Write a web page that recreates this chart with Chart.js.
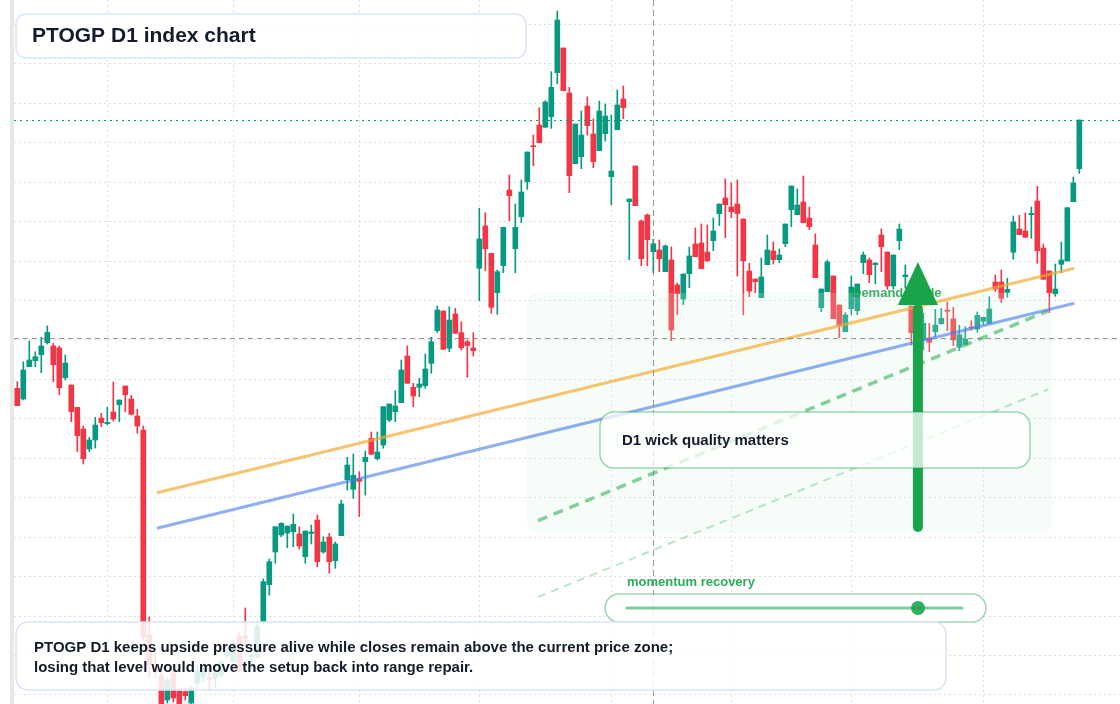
<!DOCTYPE html>
<html>
<head>
<meta charset="utf-8">
<title>PTOGP D1 index chart</title>
<script src="https://cdn.jsdelivr.net/npm/chart.js@4.4.1/dist/chart.umd.min.js"></script>
<style>
    html, body { margin: 0; padding: 0; background: #fff; }
    #wrap { width: 1120px; height: 704px; }
</style>
</head>
<body>
<div id="wrap"><canvas id="chart" width="1120" height="704"></canvas></div>
<script>
// 📊 OHLC per daily candle (index 0..177)
const opens = [
    611.7, 601, 633.3, 639.3, 645.3, 657.3, 654, 652, 622.3, 615,
    592.7, 571, 551, 560, 582, 576.3, 588, 595.3, 614, 601,
    584, 570, 365, 336, 324, 300, 327, 309, 308.3, 297,
    317, 323, 322.3, 321.7, 325, 344, 338.3, 363.3, 364, 343,
    343.3, 378, 415.3, 448, 465, 467, 468.3, 466, 443.3, 466.5,
    480, 448, 463, 439.3, 464.3, 520.3, 510.7, 521, 538.3, 561.7,
    541.3, 555, 580, 588.3, 597.3, 644, 612.7, 612.7, 614.3, 636.7,
    669.3, 689, 651.7, 686, 667.3, 658.3, 652, 731.7, 774, 746.7,
    707.3, 734.3, 810, 751.3, 783.3, 818.3, 854.3, 875, 872.7, 883.3,
    927.3, 952, 907, 836.3, 843.3, 894, 866, 849.3, 866.3, 823.3,
    870.3, 901, 798.3, 834, 779, 785, 748.3, 750, 728.3, 740,
    715, 701, 726.3, 756, 757, 748, 759.3, 786.3, 802, 793,
    796, 781, 729, 721, 702.3, 735.3, 749, 740.3, 756.3, 790.3,
    785.3, 798, 782, 755, 692.3, 708.3, 724, 695, 668.3, 691.3,
    689.3, 737.3, 740, 735.3, 765, 748, 714, 759.3, 723.3, 694,
    668, 660.7, 661.7, 668.3, 676.3, 690, 681, 652.7, 655.7, 673,
    671, 678.7, 676.7, 718, 718, 707.7, 747.7, 771, 769, 785.3,
    799, 752, 729, 706.3, 735.7, 739, 798.3, 831.3
];
const highs = [
    618.3, 638.3, 659, 648.3, 662.7, 674, 656.7, 654, 645, 615,
    592.7, 574, 562.7, 582.7, 586.7, 592.7, 618, 600, 614, 604.7,
    590.7, 574, 383, 347, 328, 322, 330, 312, 312, 314,
    335, 337, 333, 333, 340, 352, 360, 367, 392, 353,
    378, 421, 441, 473.3, 477.3, 474, 486, 473.3, 469, 475,
    485, 463.3, 466.7, 458, 500, 542.7, 546, 528.3, 549, 568,
    568, 593.3, 596, 609.3, 640, 654, 616.7, 621.7, 646, 662.7,
    694, 689, 693.3, 691.7, 678.3, 660, 667.3, 791.7, 787.3, 746.7,
    730, 772.7, 825, 796, 820, 848, 865, 892.3, 899.3, 928.3,
    989, 952, 912.7, 876, 889, 903, 881, 899, 896, 885,
    910, 914, 801, 834, 780, 786, 760.7, 760, 755, 753,
    717, 726, 753, 772, 776, 775, 782, 796, 821, 817,
    820, 781, 736.7, 721, 742, 765, 758, 751, 776, 814,
    811, 824, 793, 766, 711, 740, 724, 695, 687.3, 724,
    716, 748, 742, 737, 771, 748, 745, 776, 735, 694,
    690, 686.7, 676.7, 690.7, 691.7, 698, 692.7, 674.7, 673.3, 679.3,
    688, 682.7, 703.3, 725, 730, 721.7, 784, 784.7, 787, 793,
    813.7, 756, 729, 736, 758, 792.3, 823, 880
];
const lows = [
    594.3, 600, 633.3, 633.3, 627.3, 656, 618.3, 605.3, 620, 578.3,
    548.3, 536, 548.3, 552, 573.3, 575.3, 579, 578.3, 588.3, 585,
    566.7, 360, 322, 322, 285, 297, 298, 288, 300, 296,
    312, 318, 310, 313, 323, 343, 337, 328, 355, 333,
    342, 376, 405, 436.7, 463.3, 452.3, 453.3, 451, 436.7, 456,
    433.3, 446.7, 426.7, 431.7, 464.3, 510, 501.7, 483.3, 505, 545.7,
    540, 551.7, 578.3, 578.3, 597.3, 616.7, 593.3, 603.3, 611.7, 626.7,
    667.3, 650.7, 648.3, 666.7, 650, 622.7, 644, 699.3, 729.3, 686.7,
    685.7, 727.3, 779.3, 727.3, 777.3, 810.7, 834.3, 857.3, 872.7, 871.7,
    916, 909.3, 807.3, 836.3, 831.3, 865, 832.3, 849.3, 859, 795.3,
    870.3, 881.3, 740.3, 794.3, 734.3, 734.3, 727.3, 728.3, 728.3, 659.3,
    685.3, 695.3, 712.3, 743.3, 731.3, 738.3, 749.3, 774.3, 762.3, 782.3,
    724, 685, 703.3, 707.3, 702.3, 735.3, 736, 737.3, 753.3, 773.3,
    785.3, 777.3, 770.3, 722.3, 688.3, 708.3, 681.3, 662.3, 668.3, 685.3,
    685.3, 726.3, 717.3, 716.3, 728.3, 710.7, 711, 750.3, 711.7, 655,
    660, 650, 648.3, 663.3, 675.7, 669.3, 654.3, 649.3, 655.7, 670,
    667.7, 675.7, 676.7, 708.7, 697.3, 702.7, 740.7, 765.3, 762.7, 761.7,
    736.7, 720.7, 687.3, 703.7, 727.3, 739, 798.3, 826.7
];
const closes = [
    594.3, 630, 640, 643.3, 654, 667.7, 635.3, 612.3, 637, 588.3,
    564.3, 541.3, 560, 575, 577.3, 577.7, 581, 600, 605.3, 585.7,
    574, 363, 335, 328, 290, 320, 302, 292, 304.3, 312,
    329, 332, 320.7, 327.3, 338.3, 348.3, 356.7, 330, 362, 345,
    373.3, 418.3, 438.3, 473.3, 476.7, 474, 475.7, 454, 469, 468,
    438.3, 458, 438.3, 456, 496, 535, 524.7, 518.7, 542.7, 545.7,
    548, 593.3, 596, 594, 630, 616.7, 604, 616, 631, 658.3,
    690, 650.7, 680, 666.7, 652.3, 654.3, 649.3, 761, 751.3, 692.7,
    728.3, 772.7, 804.3, 772.7, 808, 848, 853.3, 857.3, 898, 912.7,
    980, 909.3, 824.3, 876, 865, 874.3, 838.3, 889, 884, 829,
    895, 892.3, 801, 794.3, 741.3, 760.3, 756.3, 741.3, 754, 670,
    706.3, 726, 744, 743.3, 731.3, 739.3, 769, 796, 795.3, 788.3,
    786.5, 739.3, 709, 718.3, 723, 750, 740.3, 745, 776, 814,
    795, 777.3, 773.3, 722.3, 711, 738, 681.3, 674.3, 685, 713,
    716, 745, 725.3, 737, 753.3, 714, 745, 771, 725, 667.3,
    682, 676.7, 657.7, 675, 681.7, 688.7, 660, 665.3, 661, 672,
    684.7, 682.7, 691, 711, 701.7, 710.7, 778, 765.3, 762.7, 786.7,
    749.3, 720.7, 707.3, 711, 740, 792.3, 817, 880
];

// 📅 month boundaries (candle index) and price grid levels
const monthTicks = [15, 36, 57, 77, 99, 119, 139, 161];
const priceGrid = [975.7, 936.3, 896.8, 857.4, 817.9, 778.5, 739, 699.6, 660.1,
    620.7, 581.2, 541.8, 502.3, 462.9, 423.4, 384, 344.5, 305.1];

// 📐 guide lines: [startIndex, startPrice, endIndex, endPrice]
const resistLine = [23.27, 507.3, 176.17, 731.7];
const supportLine = [23.27, 471.7, 176.17, 696.7];
const channelUpper = [86.78, 479.3, 171.78, 689];
const channelLower = [86.78, 403, 171.78, 610.5];

// 🟩 demand zone and arrow (index / price)
const demandZone = { from: 84.95, to: 172.45, top: 707, bottom: 467 };
const arrow = { index: 150.1, base: 473, neck: 695, tip: 738 };
const crossIndex = 106;
const crossPrice = 661.6;

const UP = "#089981";
const DOWN = "#f23645";
const FONT = '"Liberation Sans", Arial, Helvetica, sans-serif';
const INK = "#131b2c";

const idx = opens.map((_, i) => i);
const candleColors = idx.map(i => closes[i] >= opens[i] ? UP : DOWN);

function lineData(l) {
    return [{ x: l[0], y: l[1] }, { x: l[2], y: l[3] }];
}

function roundRect(ctx, x, y, w, h, r) {
    ctx.beginPath();
    ctx.moveTo(x + r, y);
    ctx.lineTo(x + w - r, y);
    ctx.arcTo(x + w, y, x + w, y + r, r);
    ctx.lineTo(x + w, y + h - r);
    ctx.arcTo(x + w, y + h, x + w - r, y + h, r);
    ctx.lineTo(x + r, y + h);
    ctx.arcTo(x, y + h, x, y + h - r, r);
    ctx.lineTo(x, y + r);
    ctx.arcTo(x, y, x + r, y, r);
    ctx.closePath();
}

function panel(ctx, x, y, w, h, r, fill, stroke) {
    roundRect(ctx, x, y, w, h, r);
    ctx.fillStyle = fill;
    ctx.fill();
    ctx.lineWidth = 1.5;
    ctx.strokeStyle = stroke;
    ctx.stroke();
}

// 🎨 overlays drawn on top of the library's scales
const overlay = {
    id: "overlay",
    beforeDraw(chart) {
        const ctx = chart.ctx;
        ctx.save();
        ctx.fillStyle = "#ffffff";
        ctx.fillRect(0, 0, chart.width, chart.height);
        ctx.fillStyle = "#e8e8e8";
        ctx.fillRect(10, 0, 4, chart.height);
        ctx.restore();
    },
    afterDatasetDraw(chart, args) {
        if (args.index !== 0) return;
        const { x, y } = chart.scales;
        const ctx = chart.ctx;
        const x0 = x.getPixelForValue(demandZone.from);
        const x1 = x.getPixelForValue(demandZone.to);
        const y0 = y.getPixelForValue(demandZone.top);
        const y1 = y.getPixelForValue(demandZone.bottom);
        ctx.save();
        roundRect(ctx, x0, y0, x1 - x0, y1 - y0, 10);
        ctx.fillStyle = "rgba(214,247,224,0.22)";
        ctx.fill();
        ctx.restore();
    },
    afterDatasetsDraw(chart) {
        const { x, y } = chart.scales;
        const area = chart.chartArea;
        const ctx = chart.ctx;
        ctx.save();

        // last price line
        const lastY = Math.round(y.getPixelForValue(closes[closes.length - 1])) + 0.5;
        ctx.setLineDash([2, 4]);
        ctx.strokeStyle = UP;
        ctx.lineWidth = 1;
        ctx.beginPath();
        ctx.moveTo(area.left, lastY);
        ctx.lineTo(area.right, lastY);
        ctx.stroke();

        // crosshair
        const cx = Math.round(x.getPixelForValue(crossIndex)) + 0.5;
        const cy = Math.round(y.getPixelForValue(crossPrice)) + 0.5;
        ctx.strokeStyle = "rgba(120,120,120,0.75)";
        ctx.setLineDash([6, 4]);
        ctx.beginPath();
        ctx.moveTo(cx, area.top);
        ctx.lineTo(cx, area.bottom);
        ctx.stroke();
        ctx.setLineDash([5, 4]);
        ctx.beginPath();
        ctx.moveTo(area.left, cy);
        ctx.lineTo(area.right, cy);
        ctx.stroke();
        ctx.setLineDash([]);

        // demand label
        ctx.font = "bold 13px " + FONT;
        ctx.textBaseline = "middle";
        ctx.fillStyle = "rgba(22,163,74,0.85)";
        ctx.fillText("Demand guide", 852, 293);

        // arrow
        const ax = x.getPixelForValue(arrow.index);
        const aBase = y.getPixelForValue(arrow.base);
        const aNeck = y.getPixelForValue(arrow.neck);
        const aTip = y.getPixelForValue(arrow.tip);
        ctx.strokeStyle = "#19a34b";
        ctx.fillStyle = "#19a34b";
        ctx.lineWidth = 10;
        ctx.lineCap = "round";
        ctx.beginPath();
        ctx.moveTo(ax, aBase);
        ctx.lineTo(ax, aNeck + 4);
        ctx.stroke();
        ctx.beginPath();
        ctx.moveTo(ax - 20, aNeck);
        ctx.lineTo(ax, aTip);
        ctx.lineTo(ax + 20, aNeck);
        ctx.closePath();
        ctx.fill();
        ctx.lineCap = "butt";

        // wick note
        panel(ctx, 600, 412, 430, 56, 14, "rgba(255,255,255,0.75)", "rgba(22,163,74,0.42)");
        ctx.font = "bold 15px " + FONT;
        ctx.fillStyle = INK;
        ctx.fillText("D1 wick quality matters", 622, 441);

        // momentum slider
        ctx.font = "bold 13px " + FONT;
        ctx.fillStyle = "rgba(22,163,74,0.9)";
        ctx.fillText("momentum recovery", 627, 582);
        panel(ctx, 605, 594, 381, 28, 14, "rgba(255,255,255,0.85)", "rgba(22,163,74,0.42)");
        ctx.strokeStyle = "rgba(22,163,74,0.55)";
        ctx.lineWidth = 3;
        ctx.lineCap = "round";
        ctx.beginPath();
        ctx.moveTo(627, 608);
        ctx.lineTo(962, 608);
        ctx.stroke();
        ctx.beginPath();
        ctx.arc(918, 608, 7, 0, Math.PI * 2);
        ctx.fillStyle = "rgba(22,163,74,0.88)";
        ctx.fill();

        // title
        panel(ctx, 16, 14, 510, 44, 10, "rgba(255,255,255,0.96)", "#d9e5f6");
        ctx.font = "bold 21px " + FONT;
        ctx.fillStyle = INK;
        ctx.fillText("PTOGP D1 index chart", 32, 36);

        // bottom note
        panel(ctx, 16, 622, 930, 68, 12, "rgba(255,255,255,0.86)", "#d9e5f6");
        ctx.font = "bold 15px " + FONT;
        ctx.fillStyle = INK;
        ctx.fillText("PTOGP D1 keeps upside pressure alive while closes remain above the current price zone;", 34, 648);
        ctx.fillText("losing that level would move the setup back into range repair.", 34, 668);

        ctx.restore();
    }
};

const gridStyle = { color: "rgba(0,0,0,0.13)", drawTicks: false, offset: false };

new Chart(document.getElementById("chart"), {
    type: "bar",
    data: {
        datasets: [
            {
                label: "body",
                data: idx.map(i => ({ x: i, y: [opens[i], closes[i]] })),
                backgroundColor: candleColors,
                barThickness: 5,
                minBarLength: 1,
                grouped: false,
                order: 1
            },
            {
                label: "wick",
                data: idx.map(i => ({ x: i, y: [lows[i], highs[i]] })),
                backgroundColor: candleColors,
                barThickness: 1,
                grouped: false,
                order: 2
            },
            {
                type: "line",
                label: "resistance",
                data: lineData(resistLine),
                borderColor: "rgba(245,168,45,0.68)",
                borderWidth: 3,
                pointRadius: 0,
                order: 0
            },
            {
                type: "line",
                label: "support",
                data: lineData(supportLine),
                borderColor: "rgba(70,122,236,0.6)",
                borderWidth: 3,
                pointRadius: 0,
                order: 0
            },
            {
                type: "line",
                label: "channel upper",
                data: lineData(channelUpper),
                borderColor: "rgba(34,170,80,0.55)",
                borderWidth: 3.5,
                borderDash: [10, 7],
                pointRadius: 0,
                order: 0
            },
            {
                type: "line",
                label: "channel lower",
                data: lineData(channelLower),
                borderColor: "rgba(34,170,80,0.3)",
                borderWidth: 2,
                borderDash: [8, 6],
                pointRadius: 0,
                order: 0
            }
        ]
    },
    options: {
        responsive: false,
        devicePixelRatio: 1,
        animation: false,
        layout: { padding: { left: 14, right: 0, top: 0, bottom: 0 } },
        plugins: {
            legend: { display: false },
            tooltip: { enabled: false }
        },
        scales: {
            x: {
                type: "linear",
                min: -0.55,
                max: 183.78,
                offset: false,
                ticks: { display: false },
                grid: gridStyle,
                border: { display: false, dash: [2, 3] },
                afterBuildTicks: s => { s.ticks = monthTicks.map(v => ({ value: v })); }
            },
            y: {
                type: "linear",
                min: 296,
                max: 1000,
                ticks: { display: false },
                grid: gridStyle,
                border: { display: false, dash: [2, 3] },
                afterBuildTicks: s => { s.ticks = priceGrid.map(v => ({ value: v })); }
            }
        }
    },
    plugins: [overlay]
});
</script>
</body>
</html>
